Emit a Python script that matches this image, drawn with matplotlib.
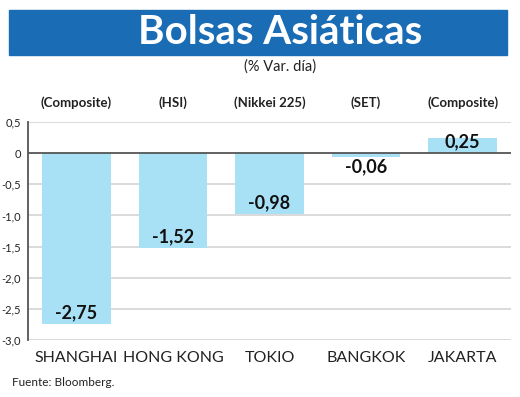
import matplotlib.pyplot as plt
from matplotlib.patches import Rectangle

mercados = ["SHANGHAI", "HONG KONG", "TOKIO", "BANGKOK", "JAKARTA"]
indices = ["(Composite)", "(HSI)", "(Nikkei 225)", "(SET)", "(Composite)"]
variacion = [-2.75, -1.52, -0.98, -0.06, 0.25]
yticks = [0.5, 0, -0.5, -1.0, -1.5, -2.0, -2.5, -3.0]

plt.rcParams["font.family"] = ["Lato", "DejaVu Sans"]

fig = plt.figure(figsize=(5.2, 3.97), dpi=100)

# franja del titulo
fig.patches.append(Rectangle((9 / 520, 1 - 55 / 397), 498 / 520, 45 / 397,
                             transform=fig.transFigure, color="#1a6db5", zorder=0))
fig.text(0.538, 1 - 33 / 397, "Bolsas Asiáticas", color="white", fontsize=29,
         fontweight="bold", ha="center", va="center")
fig.text(0.538, 1 - 67 / 397, "(% Var. día)", fontsize=10.5,
         ha="center", va="center", color="#222222")

ax = fig.add_axes([28 / 520, 1 - 340 / 397, 483 / 520, 218 / 397])
x = range(len(mercados))
ax.bar(x, variacion, width=0.71, color="#a8e0f5", zorder=2)

ax.set_xlim(-0.5, 4.5)
ax.set_ylim(-3.0, 0.5)
ax.set_yticks(yticks)
ax.set_yticklabels([("%.1f" % v).replace(".", ",") if v != 0 else "0" for v in yticks],
                   fontsize=8)
ax.tick_params(axis="y", length=0, pad=5, colors="#222222")
ax.set_xticks(list(x))
ax.set_xticklabels(mercados, fontsize=11.5, color="#222222")
ax.tick_params(axis="x", length=0, pad=8)

for v in yticks:
    if v != 0:
        ax.axhline(v, color="#d8d8d8", lw=1.3, zorder=1)
ax.axhline(0, color="#555555", lw=1.3, zorder=3)

for s in ["top", "right", "bottom"]:
    ax.spines[s].set_visible(False)
ax.spines["left"].set_color("#555555")
ax.spines["left"].set_linewidth(1.3)

for i, v in enumerate(variacion):
    lab = ("%.2f" % v).replace(".", ",")
    if v > 0:
        ax.annotate(lab, (i, v), xytext=(0, 3), textcoords="offset points",
                    ha="center", va="top", fontsize=13, fontweight="bold",
                    color="#111111", zorder=4)
    elif v > -0.3:
        ax.annotate(lab, (i, v), xytext=(0, -1), textcoords="offset points",
                    ha="center", va="top", fontsize=13, fontweight="bold",
                    color="#111111", zorder=4)
    else:
        ax.annotate(lab, (i, v), xytext=(0, 2), textcoords="offset points",
                    ha="center", va="bottom", fontsize=13, fontweight="bold",
                    color="#111111", zorder=4)

for i, t in enumerate(indices):
    ax.text(i, 1.09, t, transform=ax.get_xaxis_transform(), ha="center", va="center",
            fontsize=9.5, fontweight="bold", color="#222222")

fig.text(12 / 520, 1 - 382 / 397, "Fuente: Bloomberg.", fontsize=8.5,
         va="center", color="#222222")

fig.savefig("out.png", dpi=100)
